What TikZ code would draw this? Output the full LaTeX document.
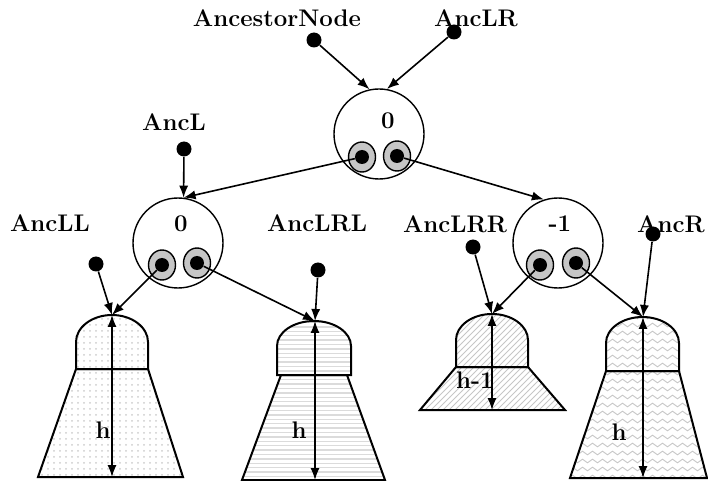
\documentclass[tikz,border=0pt]{standalone}
\usepackage{amsmath}
\usepackage{tikz}
\usetikzlibrary{arrows.meta,patterns,shapes.geometric}

% fill patterns for the subtrees
\pgfdeclarepatternformonly{thinrules}{\pgfpoint{-0.1pt}{-0.5pt}}{\pgfpoint{2.1pt}{0.5pt}}{\pgfpoint{2pt}{2.2pt}}{
  \pgfsetlinewidth{0.7pt}
  \pgfpathmoveto{\pgfpoint{-0.1pt}{0pt}}
  \pgfpathlineto{\pgfpoint{2.1pt}{0pt}}
  \pgfusepath{stroke}}
\pgfdeclarepatternformonly{softwaves}{\pgfpoint{-0.1pt}{-0.1pt}}{\pgfpoint{5.1pt}{4.1pt}}{\pgfpoint{5pt}{4pt}}{
  \pgfsetlinewidth{0.45pt}
  \pgfpathmoveto{\pgfpoint{0pt}{2pt}}
  \pgfpathcurveto{\pgfpoint{0.8pt}{3.2pt}}{\pgfpoint{1.7pt}{3.2pt}}{\pgfpoint{2.5pt}{2pt}}
  \pgfpathcurveto{\pgfpoint{3.3pt}{0.8pt}}{\pgfpoint{4.2pt}{0.8pt}}{\pgfpoint{5pt}{2pt}}
  \pgfusepath{stroke}}

\begin{document}
\begin{tikzpicture}[x=0.5pt,y=-0.5pt,>={Latex[length=6pt,width=4.6pt]},
  vnode/.style={draw,circle,line width=0.7pt,minimum size=45pt,inner sep=0pt},
  slot/.style={draw,ellipse,fill=gray!45,line width=0.7pt,
    minimum width=13.5pt,minimum height=15pt,inner sep=0pt},
  ptr/.style={circle,fill=black,minimum size=7pt,inner sep=0pt},
  anc/.style={circle,fill=black,minimum size=7.5pt,inner sep=0pt},
  lbl/.style={inner sep=0pt,font=\fontsize{12}{14}\selectfont\bfseries},
  edge/.style={->,line width=0.8pt}]
\useasboundingbox (0,0) rectangle (708,481);

% subtrees: dome + trapezoid, with height arrow
\foreach \n/\xa/\xb/\yt/\ys/\yb/\ta/\tb/\ba/\bb/\by/\xm/\pat/\pc/\lab/\lx/\ly in {
  1/76/148/315/342/369/76/148/38/183/477/112/dots/gray!40/h/103/430,
  2/277/351/321/346/375/281/347/242/385/480/315/thinrules/gray!28/h/299/430,
  3/456/528/314/340/367/456/528/420/565/410/492/north east lines/gray!45/h-1/475/380,
  4/606/679/317/343/371/606/679/570/707/478/643/softwaves/gray!45/h/619/432}{
  \pgfmathsetmacro\xc{(\xa+\xb)/2}
  \pgfmathsetmacro\yc{\ys-0.55*(\ys-\yt)}
  \pgfmathsetmacro\xl{\xc-0.55*(\xc-\xa)}
  \pgfmathsetmacro\xr{\xc+0.55*(\xb-\xc)}
  \draw[line width=1pt,pattern=\pat,pattern color=\pc]
    (\ta,\yb) -- (\tb,\yb) -- (\bb,\by) -- (\ba,\by) -- cycle;
  \draw[line width=1pt,pattern=\pat,pattern color=\pc]
    (\xa,\yb) -- (\xa,\ys) .. controls (\xa,\yc) and (\xl,\yt) .. (\xc,\yt)
    .. controls (\xr,\yt) and (\xb,\yc) .. (\xb,\ys) -- (\xb,\yb) -- cycle;
  \coordinate (top\n) at (\xm,\yt);
  \coordinate (base\n) at (\xm,\by);
  \draw[<->,line width=0.8pt] (top\n) -- (base\n);
  \node[lbl] (h\n) at (\lx,\ly) {\lab};
}

% tree nodes with balance factors
\node[vnode] (root) at (379,134) {};
\node[lbl] (rootbal) at (388,121) {0};
\node[slot] (rootL) at (362,157) {};
\node[slot] (rootR) at (397,156) {};
\node[ptr] (rootLd) at (362,157) {};
\node[ptr] (rootRd) at (397,156) {};

\node[vnode] (nl) at (178,243) {};
\node[lbl] (nlbal) at (181,224) {0};
\node[slot] (nlL) at (162,265) {};
\node[slot] (nlR) at (197,263) {};
\node[ptr] (nlLd) at (162,265) {};
\node[ptr] (nlRd) at (197,263) {};

\node[vnode] (nr) at (558,243) {};
\node[lbl] (nrbal) at (560,224) {-1};
\node[slot] (nrL) at (540,265) {};
\node[slot] (nrR) at (576,263) {};
\node[ptr] (nrLd) at (540,265) {};
\node[ptr] (nrRd) at (576,263) {};

% ancestor pointers
\node[lbl] (ancNlbl) at (277,18) {AncestorNode};
\node[lbl] (ancLRlbl) at (476,18) {AncLR};
\node[lbl] (ancLlbl) at (174,122) {AncL};
\node[lbl] (ancLLlbl) at (50,223) {AncLL};
\node[lbl] (ancLRLlbl) at (317,223) {AncLRL};
\node[lbl] (ancLRRlbl) at (455,224) {AncLRR};
\node[lbl] (ancRlbl) at (671,224) {AncR};
\node[anc] (ancN) at (314,40) {};
\node[anc] (ancLR) at (454,32) {};
\node[anc] (ancL) at (184,149) {};
\node[anc] (ancLL) at (96,264) {};
\node[anc] (ancLRL) at (318,270) {};
\node[anc] (ancLRR) at (473,247) {};
\node[anc] (ancR) at (653,234) {};

\draw[edge] (ancN) -- (root.102);
\draw[edge] (ancLR) -- (root.80);
\draw[edge] (rootLd) -- (nl.83);
\draw[edge] (ancL) -- (nl.83);
\draw[edge] (rootRd) -- (nr.108);
\draw[edge] (nlLd) -- (top1);
\draw[edge] (ancLL) -- (top1);
\draw[edge] (nlRd) -- (top2);
\draw[edge] (ancLRL) -- (top2);
\draw[edge] (nrLd) -- (top3);
\draw[edge] (ancLRR) -- (top3);
\draw[edge] (nrRd) -- (top4);
\draw[edge] (ancR) -- (top4);
\end{tikzpicture}
\end{document}
